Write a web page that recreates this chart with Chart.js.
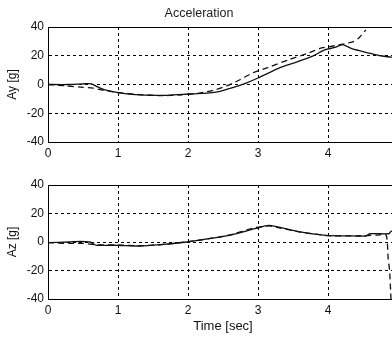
<!DOCTYPE html>
<html>
<head>
<meta charset="utf-8">
<script src="https://cdn.jsdelivr.net/npm/chart.js@4/dist/chart.umd.min.js"></script>
<style>
  html, body { margin: 0; padding: 0; background: #fff; overflow: hidden; width: 392px; height: 338px; }
  canvas { position: absolute; left: 0; display: block; }
  #ayChart { top: 0; }
  #azChart { top: 170px; }
</style>
</head>
<body>
<canvas id="ayChart" width="420" height="170"></canvas>
<canvas id="azChart" width="420" height="168"></canvas>
<script>
// Ay [g], solid trace
const aySolidTime = [0, 0.3, 0.5, 0.62, 0.7, 0.8, 1.0, 1.2, 1.45, 1.7, 1.93, 2.2, 2.44, 2.65, 2.83, 3.0, 3.3, 3.55, 3.77, 3.96, 4.1, 4.21, 4.35, 4.59, 4.75, 4.95];
const aySolid     = [0, 0, 0.5, 0.5, -1.5, -3.5, -5.6, -6.8, -7.4, -7.5, -6.8, -6.2, -4.9, -2, 1, 4.5, 11.4, 15.5, 19.5, 24.2, 25.8, 27.7, 24.7, 21.9, 20, 18.8];
// Ay [g], dashed trace
const ayDashTime = [0, 0.27, 0.5, 0.64, 0.79, 0.99, 1.3, 1.6, 1.9, 2.16, 2.4, 2.59, 2.75, 2.92, 3.15, 3.44, 3.7, 3.91, 4.1, 4.29, 4.37, 4.44, 4.54];
const ayDash     = [0, -1, -2, -2.5, -4, -5.5, -7, -7.8, -7.2, -6, -3.5, -0.2, 3.5, 8, 12, 17.2, 21.5, 25.4, 27, 28.9, 30, 32.4, 38];
// Az [g], solid trace
const azSolidTime = [0, 0.3, 0.46, 0.6, 0.69, 0.98, 1.31, 1.6, 1.98, 2.17, 2.59, 2.97, 3.16, 3.54, 3.97, 4.3, 4.54, 4.6, 4.87, 4.9, 4.95];
const azSolid     = [-0.5, 0, 0.5, 0, -2.3, -2.3, -2.8, -1.9, 0, 1.4, 4.7, 9.5, 11.6, 7.7, 4.7, 4.3, 4.2, 5.8, 5.8, 7.5, 7.5];
// Az [g], dashed trace
const azDashTime = [0, 0.3, 0.5, 0.7, 1.0, 1.3, 1.6, 2.0, 2.2, 2.6, 2.95, 3.16, 3.3, 3.6, 4.0, 4.4, 4.7, 4.83, 4.86, 4.88, 4.9];
const azDash     = [-0.5, -1, -1, -2, -2, -2.6, -2, 0.3, 1.5, 5, 10, 11.3, 10, 7, 4.5, 4.3, 4.8, 5, -12, -20, -40];

const xTicks = [0, 1, 2, 3, 4, 5];
const yTicks = [-40, -20, 0, 20, 40];

const fontFamily = "'Liberation Sans', Arial, sans-serif";

function toPoints(xs, ys) {
    return xs.map((x, i) => ({ x: x, y: ys[i] }));
}

// draws the full box round the plot area, like the matlab axes
const framePlugin = {
    id: 'frame',
    afterDraw(chart) {
        const { ctx, chartArea: a } = chart;
        ctx.save();
        ctx.strokeStyle = '#000';
        ctx.lineWidth = 1;
        ctx.strokeRect(Math.round(a.left) + 0.5, Math.round(a.top) + 0.5, a.right - a.left, a.bottom - a.top);
        ctx.restore();
    }
};

function makeChart(id, solid, dashed, yLabel, opts) {
    const ctx = document.getElementById(id).getContext('2d');
    return new Chart(ctx, {
        type: 'line',
        data: {
            datasets: [{
                data: solid,
                borderColor: '#111',
                borderWidth: 1.3,
                pointRadius: 0,
                tension: 0.2,
                fill: false
            }, {
                data: dashed,
                borderColor: '#111',
                borderWidth: 1.3,
                borderDash: [6, 4],
                pointRadius: 0,
                tension: 0.2,
                fill: false
            }]
        },
        options: {
            responsive: false,
            animation: false,
            // the right edge of the axes sits past the window, as in the original
            layout: { padding: { left: 0, right: 22, top: opts.padTop, bottom: 0 } },
            plugins: {
                legend: { display: false },
                tooltip: { enabled: false },
                title: {
                    display: opts.title !== '',
                    text: opts.title,
                    color: '#222',
                    font: { family: fontFamily, size: 12.5, weight: 'normal' },
                    padding: { top: 6, bottom: 6 }
                }
            },
            scales: {
                x: {
                    type: 'linear',
                    min: 0,
                    max: 5,
                    afterBuildTicks: (axis) => { axis.ticks = xTicks.map(v => ({ value: v })); },
                    afterFit: (axis) => { axis.height = opts.xHeight; },
                    grid: { color: '#000', lineWidth: 1, drawTicks: false },
                    border: { color: '#000', width: 1, dash: [3, 3] },
                    ticks: {
                        color: '#111',
                        padding: 4,
                        maxRotation: 0,
                        font: { family: fontFamily, size: 12 }
                    },
                    title: {
                        display: opts.xTitle !== '',
                        text: opts.xTitle,
                        color: '#111',
                        font: { family: fontFamily, size: 13 },
                        padding: { top: 0, bottom: 4 }
                    }
                },
                y: {
                    min: -40,
                    max: 40,
                    afterBuildTicks: (axis) => { axis.ticks = yTicks.map(v => ({ value: v })); },
                    afterFit: (axis) => { axis.width = 48; },
                    grid: { color: '#000', lineWidth: 1, drawTicks: false },
                    border: { color: '#000', width: 1, dash: [3, 3] },
                    ticks: {
                        color: '#111',
                        padding: 4,
                        font: { family: fontFamily, size: 12 }
                    },
                    title: {
                        display: true,
                        text: yLabel,
                        color: '#111',
                        font: { family: fontFamily, size: 12 },
                        padding: { top: 5, bottom: 0 }
                    }
                }
            }
        },
        plugins: [framePlugin]
    });
}

makeChart('ayChart', toPoints(aySolidTime, aySolid), toPoints(ayDashTime, ayDash), 'Ay [g]',
    { title: 'Acceleration', xTitle: '', padTop: 0, xHeight: 28 });
makeChart('azChart', toPoints(azSolidTime, azSolid), toPoints(azDashTime, azDash), 'Az [g]',
    { title: '', xTitle: 'Time [sec]', padTop: 15, xHeight: 39 });
</script>
</body>
</html>
